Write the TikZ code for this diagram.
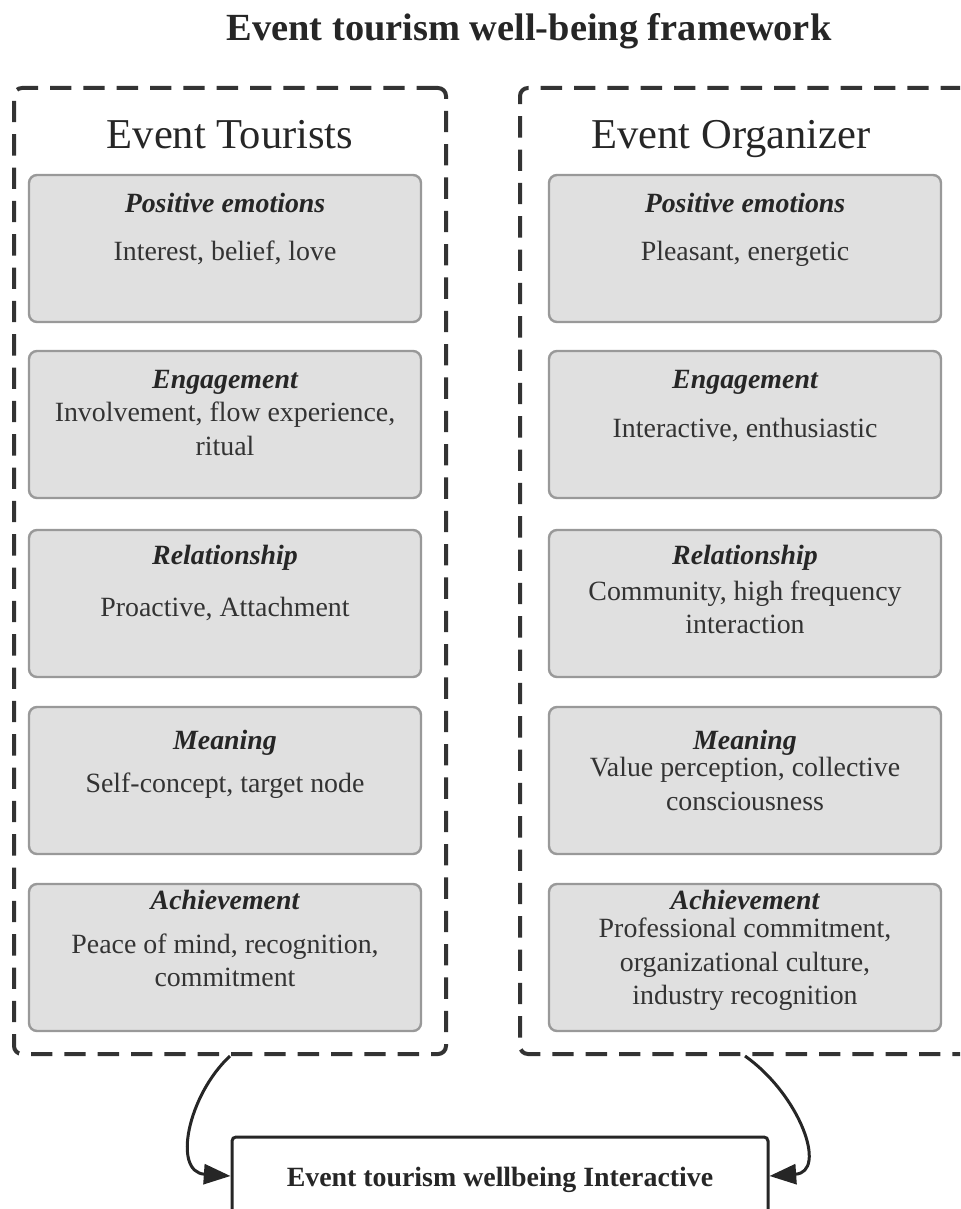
\documentclass[tikz,border=0pt]{standalone}
\usepackage{fontspec}
\setmainfont{Liberation Serif}
\usetikzlibrary{arrows.meta}

\newcommand{\bodysize}{\fontsize{20.9}{25.2}\selectfont}
\newcommand{\headsize}{\fontsize{20.9}{25.2}\selectfont\bfseries\itshape}

\tikzset{
  group/.style={draw=black!80, line width=3pt, dash pattern=on 16pt off 9pt, rounded corners=6pt, minimum height=724.5pt, inner sep=0pt},
  card/.style={draw=black!40, fill=black!12, line width=1.8pt, rounded corners=6pt, minimum width=294pt, minimum height=110.25pt, inner sep=0pt},
  cardtext/.style={inner sep=0.75pt, align=center, font=\bodysize, text=black!80},
  cardhead/.style={inner sep=0.75pt, anchor=base, font=\headsize, text=black!85},
  link/.style={line width=2.25pt, draw=black!85, -{Triangle[length=20pt,width=15pt]}}
}

\begin{document}
\begin{tikzpicture}[x=0.75pt,y=0.75pt,yscale=-1,xscale=1]
				\clip (0,0) rectangle (960,1209);
				
				% Text Node
				\node (title) at (529,31) [inner sep=0.75pt, font=\fontsize{28.8}{34}\selectfont\bfseries, text=black!85] {Event tourism well-being framework};
				
				%Shape: Dashed group [id:tourists] 
				\node (tourists) at (230,571) [group, minimum width=324pt] {};
				%Shape: Dashed group [id:organizer] 
				\node (organizer) at (745,571) [group, minimum width=337.5pt] {};
				
				% Text Node
				\node (touristsTitle) at (230,149) [anchor=base, inner sep=0.75pt, font=\fontsize{31.9}{38}\selectfont, text=black!85] {Event Tourists};
				% Text Node
				\node (organizerTitle) at (731,149) [anchor=base, inner sep=0.75pt, font=\fontsize{31.9}{38}\selectfont, text=black!85] {Event Organizer};
				
				%Shape: Rounded Rect -- tourists column
				\node (tPos) at (225,248.5) [card] {};
				\node (tEng) at (225,424.5) [card] {};
				\node (tRel) at (225,603.5) [card] {};
				\node (tMea) at (225,780.5) [card] {};
				\node (tAch) at (225,957.5) [card] {};
				
				%Shape: Rounded Rect -- organizer column
				\node (oPos) at (745,248.5) [card] {};
				\node (oEng) at (745,424.5) [card] {};
				\node (oRel) at (745,603.5) [card] {};
				\node (oMea) at (745,780.5) [card] {};
				\node (oAch) at (745,957.5) [card] {};
				
				% Text Node
				\node (tPosHead) at (225,212.5) [cardhead] {Positive emotions};
				\node (tEngHead) at (225,388.5) [cardhead] {Engagement};
				\node (tRelHead) at (225,564.5) [cardhead] {Relationship};
				\node (tMeaHead) at (225,749.5) [cardhead] {Meaning};
				\node (tAchHead) at (225,909.5) [cardhead] {Achievement};
				% Text Node
				\node (oPosHead) at (745,212.5) [cardhead] {Positive emotions};
				\node (oEngHead) at (745,388.5) [cardhead] {Engagement};
				\node (oRelHead) at (745,564.5) [cardhead] {Relationship};
				\node (oMeaHead) at (745,749.5) [cardhead] {Meaning};
				\node (oAchHead) at (745,909.5) [cardhead] {Achievement};
				
				% Text Node
				\node (tPosText) at (225,253) [cardtext] {Interest, belief, love};
				\node (tEngText) at (225,429) [cardtext] {Involvement, flow experience,\\ ritual};
				\node (tRelText) at (225,608.5) [cardtext] {Proactive, Attachment};
				\node (tMeaText) at (225,786) [cardtext] {Self-concept, target node};
				\node (tAchText) at (225,960.5) [cardtext] {Peace of mind, recognition,\\ commitment};
				% Text Node
				\node (oPosText) at (745,254) [cardtext] {Pleasant, energetic};
				\node (oEngText) at (745,429.5) [cardtext] {Interactive, enthusiastic};
				\node (oRelText) at (745,607.5) [cardtext] {Community, high frequency\\ interaction};
				\node (oMeaText) at (745,784) [cardtext] {Value perception, collective\\ consciousness};
				\node (oAchText) at (745,964.5) [cardtext] {Professional commitment,\\ organizational culture,\\ industry recognition};
				
				%Shape: Rounded Rect [id:interactive] 
				\node (interactive) at (500,1176) [draw=black!85, fill=white, line width=2.25pt, rounded corners=3pt, minimum width=402pt, minimum height=58.5pt, inner sep=0pt] {};
				% Text Node
				\node (interactiveText) at (500,1180) [inner sep=0.75pt, font=\fontsize{20.9}{25}\selectfont\bfseries, text=black!85] {Event tourism wellbeing Interactive};
				
				%Curve Lines 
				\draw [link] (tourists.south) .. controls (188,1095) and (172,1172) .. (interactive.west);
				%Curve Lines 
				\draw [link] (organizer.south) .. controls (800,1095) and (828,1172) .. (interactive.east);
				
\end{tikzpicture}
\end{document}
